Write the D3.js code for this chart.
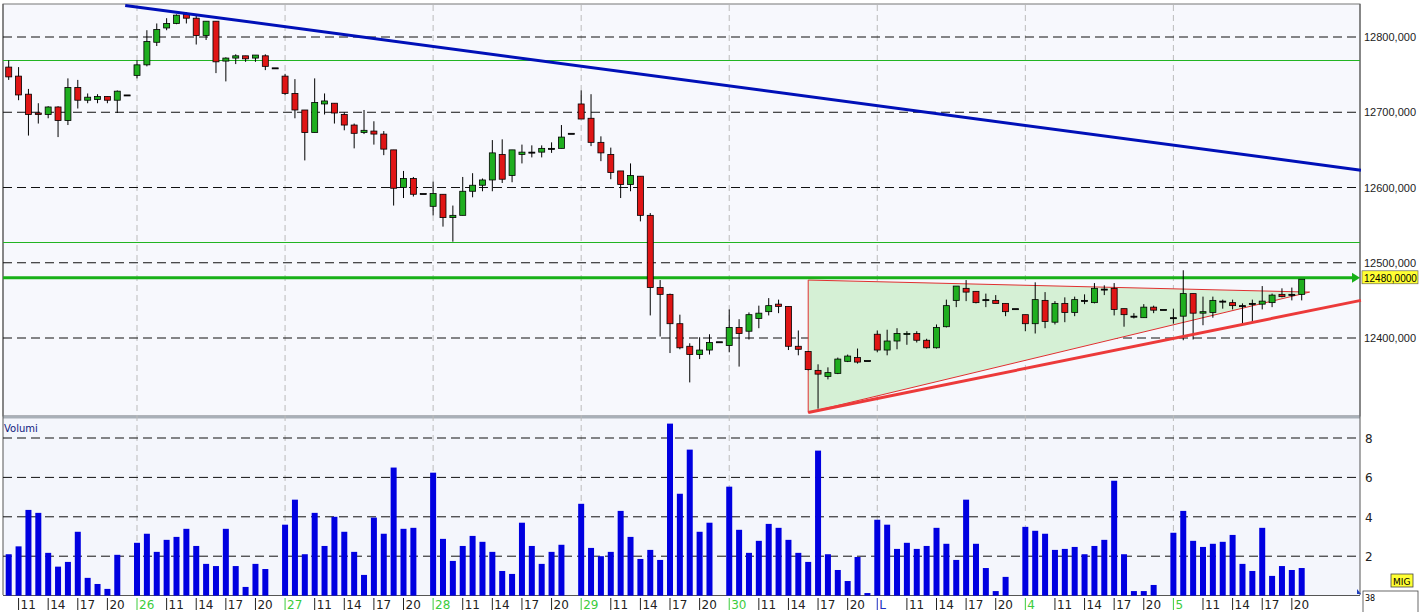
<!DOCTYPE html>
<html>
<head>
<meta charset="utf-8">
<script src="https://cdn.jsdelivr.net/npm/d3@7/dist/d3.min.js"></script>
<style>
  body { margin: 0; background: #fff; }
  svg { display: block; font-family: "DejaVu Sans", sans-serif; }
</style>
</head>
<body>
<div></div>
<script>
// hourly candles, 25 Mar .. 5 Apr (15 slots per day, last slot of the day is a dash)
const opens = [12760,12748,12724,12699,12697,12707,12689,12733,12716,12717,12721,12716,12723,
  12749,12763,12793,12812,12818,12830,12825,12802,12821,12768,12772,12775,12772,12775,12759,
  12748,12725,12703,12673,12711,12712,12697,12683,12673,12675,12671,12650,12600,12612,12592,
  12575,12591,12560,12563,12595,12603,12610,12644,12616,12644,12647,12647,12652,12652,12672,
  12711,12692,12660,12644,12622,12604,12615,12563,12467,12458,12419,12389,12378,12384,12395,
  12390,12414,12409,12426,12435,12445,12442,12389,12382,12357,12349,12353,12369,12374,12370,
  12405,12384,12396,12405,12406,12397,12387,12415,12450,12466,12462,12451,12450,12446,12439,
  12431,12419,12450,12421,12446,12434,12450,12447,12465,12466,12439,12429,12427,12441,12438,
  12427,12429,12459,12433,12434,12449,12447,12443,12446,12445,12447,12458,12458,12458];
const highs = [12769,12760,12731,12712,12708,12708,12745,12743,12725,12724,12721,12729,12723,
  12769,12809,12818,12825,12830,12833,12829,12821,12821,12773,12777,12775,12776,12777,12759,
  12751,12744,12703,12745,12725,12712,12700,12685,12703,12688,12675,12650,12622,12614,12592,
  12608,12591,12576,12614,12619,12612,12663,12664,12650,12657,12656,12656,12660,12683,12672,
  12729,12724,12668,12653,12622,12632,12615,12566,12477,12459,12431,12393,12401,12405,12395,
  12438,12425,12434,12443,12453,12451,12442,12410,12382,12365,12361,12374,12378,12386,12370,
  12410,12411,12413,12409,12409,12399,12418,12451,12469,12477,12462,12459,12457,12446,12439,
  12431,12474,12461,12449,12454,12455,12458,12473,12470,12473,12439,12433,12445,12443,12438,
  12439,12490,12459,12455,12455,12451,12451,12446,12451,12469,12459,12466,12467,12477];
const lows = [12743,12716,12669,12685,12692,12667,12683,12705,12712,12712,12712,12699,12723,
  12745,12761,12788,12809,12817,12818,12790,12796,12752,12741,12764,12767,12767,12756,12759,
  12723,12692,12636,12673,12697,12685,12676,12652,12671,12657,12643,12576,12586,12588,12592,
  12563,12548,12528,12563,12587,12595,12595,12606,12607,12632,12640,12640,12646,12652,12672,
  12691,12655,12635,12611,12586,12595,12555,12430,12402,12380,12385,12341,12372,12378,12395,
  12381,12362,12398,12413,12430,12433,12384,12377,12357,12306,12345,12352,12368,12366,12370,
  12381,12377,12385,12391,12394,12386,12386,12414,12441,12449,12446,12441,12446,12429,12439,
  12409,12406,12413,12418,12421,12429,12445,12446,12457,12430,12415,12426,12427,12433,12438,
  12419,12397,12398,12417,12427,12439,12438,12419,12421,12438,12441,12454,12450,12450];
const closes = [12747,12723,12697,12697,12707,12689,12733,12716,12720,12721,12716,12728,12723,
  12763,12794,12810,12818,12829,12825,12802,12821,12767,12772,12775,12771,12776,12761,12759,
  12725,12703,12673,12713,12715,12699,12683,12672,12676,12671,12651,12599,12612,12591,12592,
  12592,12560,12563,12595,12603,12610,12646,12611,12650,12647,12647,12652,12652,12667,12672,
  12691,12660,12646,12620,12604,12616,12563,12467,12458,12419,12387,12378,12384,12394,12395,
  12414,12406,12431,12433,12443,12442,12389,12385,12358,12352,12354,12372,12376,12368,12370,
  12384,12396,12406,12406,12397,12387,12414,12443,12469,12461,12447,12451,12446,12435,12439,
  12419,12451,12422,12446,12434,12451,12450,12466,12465,12438,12431,12429,12441,12437,12438,
  12427,12459,12433,12435,12450,12449,12443,12443,12446,12449,12457,12455,12458,12478];
const volumes = [2.1,2.5,4.35,4.2,2.17,1.47,1.71,3.24,0.9,0.59,0.34,2.07,0,
  2.68,3.14,2.22,2.83,2.98,3.39,2.52,1.61,1.5,3.39,1.5,0.44,1.61,1.35,0,
  3.6,4.87,2.1,4.2,2.52,4.0,3.24,2.22,1.05,3.96,3.14,6.5,3.39,3.44,0,
  6.24,2.88,1.76,2.52,3.03,2.73,2.22,1.25,1.1,3.7,2.52,1.61,2.22,2.58,0,
  4.66,2.42,2.0,2.22,4.3,2.98,1.86,2.32,1.81,8.73,5.17,7.41,3.24,3.7,0,
  5.53,3.34,2.17,2.78,3.64,3.44,2.83,2.17,1.71,7.36,2.1,1.3,0.74,1.96,0.13,
  3.85,3.6,2.37,2.68,2.37,2.52,3.44,2.63,1.81,4.87,2.63,1.4,0.23,0.95,0,
  3.49,3.29,3.14,2.32,2.37,2.47,2.1,2.52,2.83,5.83,2.1,0.23,0.23,0.54,0,
  3.19,4.3,2.78,2.47,2.63,2.73,3.08,1.61,1.25,3.44,1.0,1.5,1.3,1.4];

const tickIdx = [1,4,7,10, 13,16,19,22,25, 28,31,34,37,40, 43,46,49,52,55, 58,61,64,67,70,
  73,76,79,82,85, 88,91,94,97,100, 103,106,109,112,115, 118,121,124,127,130];
const tickLabels = ["11","14","17","20","26","11","14","17","20","27","11","14","17","20",
  "28","11","14","17","20","29","11","14","17","20","30","11","14","17","20",
  "L","11","14","17","20","4","11","14","17","20","5","11","14","17","20"];
const dayIdx = [13,28,43,58,73,88,103,118];
const priceTicks = [12400,12500,12600,12700,12800];
const volTicks = [2,4,6,8];

// drawn studies: [index, price]
const downTrend = [[11.8,12842],[137,12623]];
const upTrend = [[81,12301],[137,12450]];
const triangle = [[81,12477],[81,12301],[131.8,12461]];
const levels = [12770,12528];
const resistance = 12480;

const W = 1421, H = 612;
const L = 3, R = 1360;
const svg = d3.select("div").append("svg").attr("width", W).attr("height", H);

const x = d3.scaleLinear().domain([0, 131]).range([8.7, 1301.7]);
const y = d3.scaleLinear().domain([12400, 12800]).range([338, 37]);
const yv = d3.scaleLinear().domain([0, 8]).range([595.6, 438]);

// panels
svg.append("rect").attr("x", L).attr("y", 4).attr("width", R - L).attr("height", 412)
  .attr("fill", "#f7f8fd").attr("stroke", "#777");
svg.append("rect").attr("x", L).attr("y", 418).attr("width", R - L).attr("height", 177)
  .attr("fill", "#f4f6fc").attr("stroke", "none");
svg.append("line").attr("x1", L).attr("x2", R).attr("y1", 417).attr("y2", 417)
  .attr("stroke", "#a9b0b8").attr("stroke-width", 3);
svg.append("line").attr("x1", L).attr("x2", L).attr("y1", 4).attr("y2", 595).attr("stroke", "#555");
svg.append("line").attr("x1", R).attr("x2", R).attr("y1", 4).attr("y2", 595).attr("stroke", "#555");
svg.append("line").attr("x1", L).attr("x2", R).attr("y1", 595.5).attr("y2", 595.5).attr("stroke", "#555");

const grid = svg.append("g");
grid.selectAll(".dv").data(dayIdx).join("line")
  .attr("x1", d => x(d)).attr("x2", d => x(d)).attr("y1", 5).attr("y2", 595)
  .attr("stroke", "#bbb").attr("stroke-dasharray", "6,4");
grid.selectAll(".hp").data(priceTicks).join("line")
  .attr("x1", L).attr("x2", R).attr("y1", d => y(d)).attr("y2", d => y(d))
  .attr("stroke", "#111").attr("stroke-dasharray", "9,5");
grid.selectAll(".hv").data(volTicks).join("line")
  .attr("x1", L).attr("x2", R).attr("y1", d => yv(d)).attr("y2", d => yv(d))
  .attr("stroke", "#111").attr("stroke-dasharray", "9,5");

// horizontal levels
svg.selectAll(".lvl").data(levels).join("line")
  .attr("x1", L).attr("x2", R).attr("y1", d => Math.round(y(d)) + 0.5).attr("y2", d => Math.round(y(d)) + 0.5)
  .attr("stroke", "#22b422").attr("stroke-width", 1);

// triangle
const line = d3.line().x(d => x(d[0])).y(d => y(d[1]));
svg.append("path").attr("d", line(triangle) + "Z")
  .attr("fill", "#d5f0d5").attr("stroke", "#e03030").attr("stroke-width", 1);

svg.append("line").attr("x1", L).attr("x2", R - 4).attr("y1", y(resistance)).attr("y2", y(resistance))
  .attr("stroke", "#18b018").attr("stroke-width", 3);
svg.append("path")
  .attr("d", `M${R - 8},${y(resistance) - 5}L${R},${y(resistance)}L${R - 8},${y(resistance) + 5}Z`)
  .attr("fill", "#18b018");

// candles
const idx = d3.range(opens.length);
const cw = 6;
const c = svg.append("g");
c.selectAll(".wick").data(idx).join("line")
  .attr("x1", i => x(i)).attr("x2", i => x(i))
  .attr("y1", i => y(highs[i])).attr("y2", i => y(lows[i]))
  .attr("stroke", "#000");
c.selectAll(".body").data(idx).join("rect")
  .attr("x", i => x(i) - cw / 2)
  .attr("y", i => y(Math.max(opens[i], closes[i])))
  .attr("width", cw)
  .attr("height", i => Math.max(1, Math.abs(y(opens[i]) - y(closes[i]))))
  .attr("fill", i => closes[i] > opens[i] ? "#1fae1f" : closes[i] < opens[i] ? "#e01515" : "#000")
  .attr("stroke", "#000").attr("stroke-width", 0.8);

// trend lines
svg.append("path").attr("d", line(downTrend)).attr("stroke", "#0010b8")
  .attr("stroke-width", 3).attr("fill", "none");
svg.append("path").attr("d", line(upTrend)).attr("stroke", "#ec3a3a")
  .attr("stroke-width", 3).attr("fill", "none");

// volume bars
svg.selectAll(".vol").data(idx).join("rect")
  .attr("x", i => x(i) - 3).attr("width", 6)
  .attr("y", i => yv(volumes[i])).attr("height", i => yv(0) - yv(volumes[i]))
  .attr("fill", "#0000e0");

// right axis labels
svg.selectAll(".pl").data(priceTicks).join("text")
  .attr("x", R + 4).attr("y", d => y(d) + 4).attr("font-size", 11)
  .attr("font-family", "Liberation Sans, sans-serif").attr("fill", "#222")
  .text(d => d3.format("d")(d) + ",000");
svg.selectAll(".vl").data(volTicks).join("text")
  .attr("x", R + 5).attr("y", d => yv(d) + 5).attr("font-size", 12).attr("fill", "#222")
  .text(d => d);

svg.append("rect").attr("x", R + 2).attr("y", y(resistance) - 7).attr("width", 56).attr("height", 13)
  .attr("fill", "#ffff33").attr("stroke", "#555").attr("stroke-width", 0.6);
svg.append("text").attr("x", R + 4).attr("y", y(resistance) + 4).attr("font-size", 10)
  .attr("font-family", "Liberation Sans, sans-serif").attr("fill", "#000")
  .text(resistance + ",0000");

svg.append("text").attr("x", 4).attr("y", 432).attr("font-size", 10).attr("fill", "#102080").text("Volumi");

// x labels
const xl = svg.append("g");
tickIdx.forEach((t, k) => {
  const lab = tickLabels[k];
  const col = /^\d+$/.test(lab) && dayIdx.includes(t) ? "#3ccc3c" : lab === "L" ? "#2030c0" : "#222";
  xl.append("line").attr("x1", x(t)).attr("x2", x(t)).attr("y1", 598).attr("y2", 610)
    .attr("stroke", col);
  xl.append("text").attr("x", x(t) + 2).attr("y", 609).attr("font-size", 12).attr("fill", col).text(lab);
});

// bottom right corner bits
svg.append("path").attr("d", `M${R - 3},589L${R + 1},594L${R - 3},594Z`).attr("fill", "#2040c0");
svg.append("rect").attr("x", 1391).attr("y", 574).attr("width", 22).attr("height", 13)
  .attr("fill", "#ffff33").attr("stroke", "#444").attr("stroke-width", 0.8);
svg.append("text").attr("x", 1393).attr("y", 585).attr("font-size", 9).text("MIG");
svg.append("rect").attr("x", 1363).attr("y", 591).attr("width", 55).attr("height", 25)
  .attr("fill", "#fff").attr("stroke", "#444").attr("stroke-width", 0.8);
svg.append("text").attr("x", 1365).attr("y", 601).attr("font-size", 8).text("38");
</script>
</body>
</html>
